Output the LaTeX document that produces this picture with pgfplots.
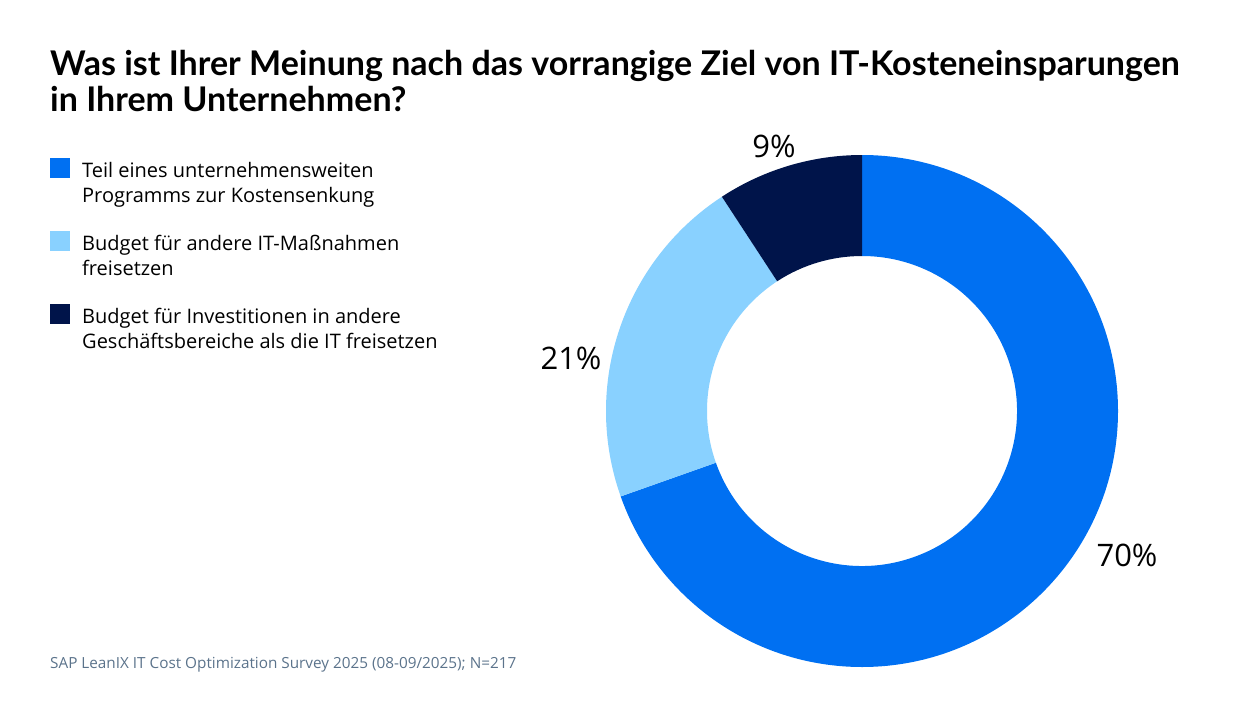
\documentclass[border=0pt]{standalone}
\usepackage{pgfplots}
\usepackage{pgfplotstable}
\pgfplotsset{compat=1.18}
\usepackage{fontspec}
\setmainfont{Open Sans}
\newfontfamily\titlefont{Lato}

\definecolor{sapblue}{HTML}{0070F2}
\definecolor{sapsky}{HTML}{89D1FF}
\definecolor{sapnavy}{HTML}{00144A}
\definecolor{notegray}{HTML}{5B738B}

% answers (N=217), clockwise from 12 o'clock
\pgfplotstableread{
count color
151 sapblue
46 sapsky
20 sapnavy
}\slices
\pgfplotstablecreatecol[expr accum={\pgfmathaccuma + \thisrow{count}}{0}]{cum}{\slices}
\def\total{217}

\begin{document}
\begin{tikzpicture}
  \begin{axis}[
      scale only axis, width=1240pt, height=720pt,
      xmin=0, xmax=1240, ymin=0, ymax=720, y dir=reverse,
      hide axis, clip=false
    ]
    \path (axis cs:0,0) rectangle (axis cs:1240,720);

    %% --- donut, centre (862,411), radii 256 / 155 ---
    \pgfmathsetmacro\degper{360/\total}
    \pgfplotsforeachungrouped \i in {0,1,2}{
      \pgfplotstablegetelem{\i}{count}\of\slices \let\sh\pgfplotsretval
      \pgfplotstablegetelem{\i}{cum}\of\slices \let\cm\pgfplotsretval
      \pgfplotstablegetelem{\i}{color}\of\slices \let\col\pgfplotsretval
      \pgfmathsetmacro\aS{90-\degper*(\cm-\sh)}
      \pgfmathsetmacro\aE{90-\degper*\cm}
      \pgfmathsetmacro\xo{862+256*cos(\aS)}
      \pgfmathsetmacro\yo{411-256*sin(\aS)}
      \pgfmathsetmacro\xi{862+155*cos(\aE)}
      \pgfmathsetmacro\yi{411-155*sin(\aE)}
      \edef\doit{\noexpand\fill[\col] (axis cs:\xo,\yo)
        arc[start angle=\aS, end angle=\aE, radius=256pt]
        -- (axis cs:\xi,\yi)
        arc[start angle=\aE, end angle=\aS, radius=155pt] -- cycle;}
      \doit
    }

    %% --- percentage labels ---
    \begin{scope}[every node/.style={font=\fontsize{31}{36}\selectfont}]
      \node at (axis cs:774,146) {9\%};
      \node at (axis cs:571,358) {21\%};
      \node at (axis cs:1127,555) {70\%};
    \end{scope}

    %% --- title ---
    \begin{scope}[every node/.style={anchor=base west, inner sep=0pt,
        font=\titlefont\bfseries\fontsize{34}{40}\selectfont}]
      \node at (axis cs:50,75) {Was ist Ihrer Meinung nach das vorrangige Ziel von IT-Kosteneinsparungen};
      \node at (axis cs:50,111) {in Ihrem Unternehmen?};
    \end{scope}

    %% --- legend ---
    \fill[sapblue] (axis cs:50,158) rectangle (axis cs:70,178);
    \fill[sapsky]  (axis cs:50,231) rectangle (axis cs:70,251);
    \fill[sapnavy] (axis cs:50,304) rectangle (axis cs:70,324);
    \begin{scope}[every node/.style={anchor=base west, inner sep=0pt, font=\fontsize{20}{24}\selectfont}]
      \node at (axis cs:82,177) {Teil eines unternehmensweiten};
      \node at (axis cs:82,202) {Programms zur Kostensenkung};
      \node at (axis cs:82,250) {Budget für andere IT-Maßnahmen};
      \node at (axis cs:82,275) {freisetzen};
      \node at (axis cs:82,323) {Budget für Investitionen in andere};
      \node at (axis cs:82,348) {Geschäftsbereiche als die IT freisetzen};
    \end{scope}

    %% --- source ---
    \node[anchor=base west, inner sep=0pt, text=notegray, font=\fontsize{15.3}{18}\selectfont]
      at (axis cs:50,668) {SAP LeanIX IT Cost Optimization Survey 2025 (08-09/2025); N=217};
  \end{axis}
\end{tikzpicture}
\end{document}
